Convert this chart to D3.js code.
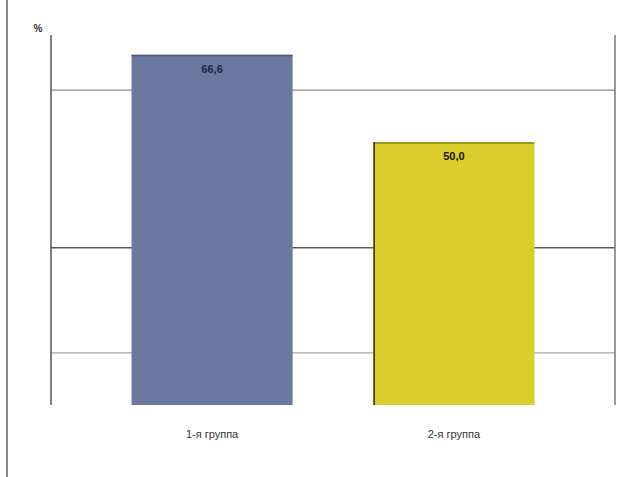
<!DOCTYPE html>
<html>
<head>
<meta charset="utf-8">
<script src="https://cdn.jsdelivr.net/npm/d3@7"></script>
<style>
  html, body { margin: 0; padding: 0; background: #fff; }
  svg { display: block; }
  text { font-family: "Liberation Sans", Arial, sans-serif; }
</style>
</head>
<body>
<svg id="chart" width="636" height="477"></svg>
<script>
// Доля пациентов по группам, %
const categories = ["1-я группа", "2-я группа"];
const values = [66.6, 50.0];
const valueLabels = ["66,6", "50,0"];
const gridValues = [10, 30, 60];
const yMax = 70;

const barFill = ["#6b78a0", "#dbcd2c"];
const barEdge = ["#4a5676", "#8a8020"];
const labelColor = ["#1c2440", "#111111"];

const W = 636, H = 477;
const plot = { left: 51, right: 615, top: 37, bottom: 405, lineTop: 35 };

const svg = d3.select("#chart");

const x = d3.scaleBand()
  .domain(categories)
  .range([plot.left, plot.right])
  .paddingInner(0.334)
  .paddingOuter(0.333);

const y = d3.scaleLinear()
  .domain([0, yMax])
  .range([plot.bottom, plot.top]);

// outer frame line at the left
svg.append("line")
  .attr("x1", 7).attr("x2", 7)
  .attr("y1", 0).attr("y2", H)
  .attr("stroke", "#8a8a8a").attr("stroke-width", 2);

// horizontal grid lines
const grid = svg.append("g")
  .attr("transform", `translate(${plot.left},0)`)
  .call(d3.axisLeft(y)
    .tickValues(gridValues)
    .tickSize(-(plot.right - plot.left))
    .tickFormat(""));
grid.select(".domain").remove();
grid.selectAll(".tick line")
  .attr("stroke", d => d === 30 ? "#5a5a5a" : (d === 60 ? "#8c8c8c" : "#a8a8a8"))
  .attr("stroke-width", d => d === 30 ? 1.6 : 1.3);

// right boundary line
svg.append("line")
  .attr("x1", plot.right).attr("x2", plot.right)
  .attr("y1", plot.lineTop).attr("y2", plot.bottom)
  .attr("stroke", "#7a7a7a").attr("stroke-width", 1.5);

// left value axis (no tick labels)
svg.append("line")
  .attr("x1", plot.left).attr("x2", plot.left)
  .attr("y1", plot.lineTop).attr("y2", plot.bottom)
  .attr("stroke", "#555").attr("stroke-width", 1.5);

svg.append("text")
  .attr("x", 38).attr("y", 32)
  .attr("text-anchor", "middle")
  .attr("font-size", 10)
  .attr("font-weight", "bold")
  .attr("fill", "#333")
  .text("%");

// bars
const bars = svg.append("g");
bars.selectAll("rect")
  .data(values)
  .join("rect")
  .attr("x", (d, i) => x(categories[i]))
  .attr("y", d => y(d))
  .attr("width", x.bandwidth())
  .attr("height", d => y(0) - y(d))
  .attr("fill", (d, i) => barFill[i]);

// darker top edge on each bar
bars.selectAll("line.top")
  .data(values)
  .join("line")
  .attr("class", "top")
  .attr("x1", (d, i) => x(categories[i]))
  .attr("x2", (d, i) => x(categories[i]) + x.bandwidth())
  .attr("y1", d => y(d) + 0.75)
  .attr("y2", d => y(d) + 0.75)
  .attr("stroke", (d, i) => barEdge[i])
  .attr("stroke-width", 1.5);

// dark left edge on the second bar
bars.append("line")
  .attr("x1", x(categories[1]) + 0.75)
  .attr("x2", x(categories[1]) + 0.75)
  .attr("y1", y(values[1]))
  .attr("y2", y(0))
  .attr("stroke", "#2a2a10")
  .attr("stroke-width", 1.5);

// value labels inside the bars
svg.append("g").selectAll("text")
  .data(values)
  .join("text")
  .attr("x", (d, i) => x(categories[i]) + x.bandwidth() / 2)
  .attr("y", d => y(d) + 18)
  .attr("text-anchor", "middle")
  .attr("font-size", 11)
  .attr("font-weight", "bold")
  .attr("fill", (d, i) => labelColor[i])
  .text((d, i) => valueLabels[i]);

// category labels
svg.append("g").selectAll("text")
  .data(categories)
  .join("text")
  .attr("x", d => x(d) + x.bandwidth() / 2)
  .attr("y", 438)
  .attr("text-anchor", "middle")
  .attr("font-size", 11)
  .attr("fill", "#333")
  .text(d => d);
</script>
</body>
</html>
